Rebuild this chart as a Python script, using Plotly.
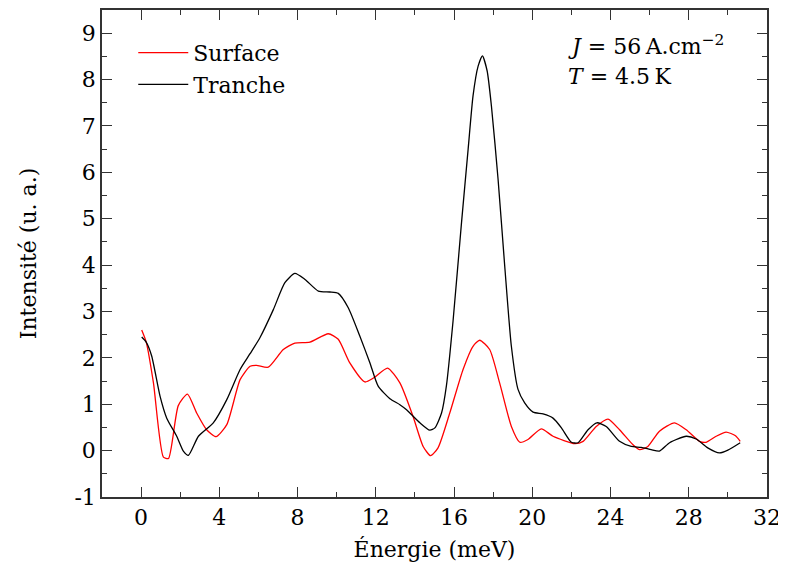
import plotly.graph_objects as go

# Surface spectrum (red)
surface_energy = [0.03, 0.26, 0.63, 1.14, 1.40, 1.90, 2.37, 2.84, 3.35, 3.83, 4.38,
                  5.06, 5.57, 5.90, 6.50, 7.27, 7.86, 8.63, 9.57, 10.08, 10.67,
                  11.44, 11.90, 12.60, 13.23, 13.90, 14.42, 14.80, 15.18, 15.78,
                  16.46, 16.97, 17.31, 17.82, 18.33, 18.93, 19.36, 19.78, 20.46,
                  21.06, 22.17, 22.60, 23.27, 23.87, 24.46, 25.14, 25.49, 25.91,
                  26.50, 27.27, 27.87, 28.55, 28.89, 29.40, 29.91, 30.39, 30.63]
surface_intensity = [2.60, 2.34, 1.46, -0.14, -0.17, 0.97, 1.22, 0.81, 0.45, 0.30, 0.56,
                     1.53, 1.82, 1.84, 1.80, 2.18, 2.32, 2.34, 2.52, 2.40, 1.89,
                     1.48, 1.57, 1.78, 1.46, 0.74, 0.09, -0.11, 0.06, 0.81,
                     1.75, 2.25, 2.38, 2.18, 1.46, 0.52, 0.18, 0.24, 0.47,
                     0.31, 0.15, 0.20, 0.52, 0.68, 0.45, 0.13, 0.02, 0.09,
                     0.42, 0.60, 0.45, 0.20, 0.18, 0.31, 0.40, 0.32, 0.20]

# Tranche spectrum (black)
tranche_energy = [0.03, 0.26, 0.54, 0.97, 1.31, 1.82, 2.16, 2.42, 2.93, 3.69, 4.38,
                  5.06, 5.57, 6.08, 6.76, 7.35, 7.86, 8.38, 9.06, 9.65, 10.08,
                  10.59, 11.18, 11.70, 12.12, 12.72, 13.23, 13.57, 14.25, 14.76,
                  15.02, 15.36, 15.61, 15.95, 16.38, 16.72, 16.97, 17.23, 17.45,
                  17.69, 17.91, 18.25, 18.59, 18.93, 19.27, 19.61, 20.04, 20.55,
                  21.06, 21.49, 22.00, 22.34, 22.85, 23.30, 23.78, 24.46, 25.06,
                  25.57, 26.08, 26.50, 27.02, 27.87, 28.38, 28.97, 29.57, 30.00, 30.63]
tranche_intensity = [2.45, 2.34, 2.04, 1.17, 0.70, 0.31, -0.01, -0.10, 0.31, 0.60, 1.10,
                     1.75, 2.09, 2.44, 3.04, 3.62, 3.82, 3.69, 3.44, 3.42, 3.39,
                     3.08, 2.47, 1.89, 1.39, 1.12, 0.99, 0.88, 0.60, 0.44,
                     0.49, 0.81, 1.40, 2.80, 4.91, 6.50, 7.65, 8.29, 8.51,
                     8.19, 7.43, 5.85, 3.98, 2.25, 1.32, 1.03, 0.83, 0.79,
                     0.70, 0.49, 0.18, 0.17, 0.45, 0.60, 0.52, 0.20, 0.09,
                     0.07, 0.02, -0.01, 0.17, 0.31, 0.25, 0.06, -0.05, 0.01, 0.17]

y_tickvals = [-1, 0, 1, 2, 3, 4, 5, 6, 7, 8, 9]
y_ticktext = ["-1", "0", "1", "2", "3", "4", "5", "6", "7", "8", "9"]

FONT = "DejaVu Serif"

fig = go.Figure()

fig.add_trace(go.Scatter(
    x=surface_energy, y=surface_intensity, mode="lines", name="Surface",
    line=dict(color="#ff0000", width=1.3, shape="spline", smoothing=0.6),
))
fig.add_trace(go.Scatter(
    x=tranche_energy, y=tranche_intensity, mode="lines", name="Tranche",
    line=dict(color="#000000", width=1.3, shape="spline", smoothing=0.6),
))

axis_common = dict(
    showline=True, linecolor="#333333", linewidth=1.5, mirror="ticks",
    ticks="inside", ticklen=10, tickwidth=1.2, tickcolor="#333333",
    showgrid=False, zeroline=False, automargin=False,
    tickfont=dict(family=FONT, size=22, color="black"),
)

fig.update_xaxes(
    range=[-2, 32], tick0=0, dtick=4,
    minor=dict(ticks="inside", ticklen=5, dtick=2, tick0=0, tickcolor="#333333"),
    title=dict(text="Énergie (meV)", font=dict(family=FONT, size=22, color="black"), standoff=12),
    **axis_common,
)
fig.update_yaxes(
    range=[-1, 9.5], tickvals=y_tickvals, ticktext=y_ticktext,
    minor=dict(ticks="inside", ticklen=5, dtick=0.5, tick0=0, tickcolor="#333333"),
    title=dict(text="Intensité (u. a.)", font=dict(family=FONT, size=22, color="black"), standoff=32),
    **axis_common,
)

fig.add_annotation(
    xref="paper", yref="paper", x=0.697, y=0.928, xanchor="left", yanchor="middle",
    text="<i>J</i> = 56\u2009A.cm<sup>−2</sup>", showarrow=False,
    font=dict(family=FONT, size=22, color="black"),
)
fig.add_annotation(
    xref="paper", yref="paper", x=0.697, y=0.864, xanchor="left", yanchor="middle",
    text="<i>T</i> = 4.5\u2009K", showarrow=False,
    font=dict(family=FONT, size=22, color="black"),
)

# page body adds an 8px offset, so margins are shifted to keep the plot box in place
fig.update_layout(
    width=786, height=579,
    margin=dict(l=94, r=27, t=2, b=90),
    paper_bgcolor="white", plot_bgcolor="white",
    font=dict(family=FONT, size=22, color="black"),
    showlegend=True,
    legend=dict(
        x=0.047, y=0.955, xanchor="left", yanchor="top",
        bgcolor="rgba(0,0,0,0)", font=dict(family=FONT, size=22, color="black"),
        itemwidth=50, tracegroupgap=0,
    ),
)

fig.write_html("out.html")
